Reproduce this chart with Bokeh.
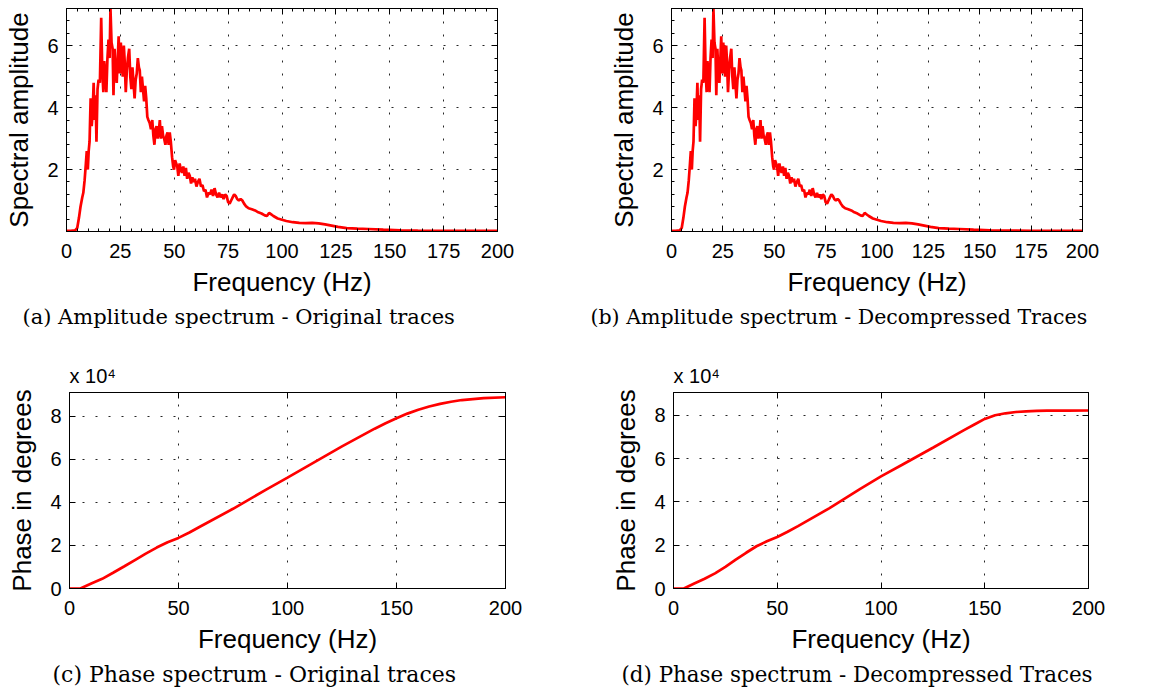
from bokeh.plotting import figure
from bokeh.layouts import column, row
from bokeh.models import FixedTicker, Title, LinearAxis, Range1d
from bokeh.embed import file_html
from bokeh.resources import INLINE

# ---------------- data ----------------
amp_freq = [0, 2, 4, 5, 5.8, 6.5, 7.3, 7.8, 8.4, 9.0, 9.4, 9.9, 10.3, 10.7, 11.2, 11.7, 12.1, 12.6,
            13.0, 13.5, 13.9, 14.4, 14.9, 15.5, 16.1, 16.6, 17.1, 17.5, 18.0, 18.5, 19.0, 19.5, 20.0,
            20.4, 20.9, 21.4, 21.8, 22.3, 22.8, 23.3, 23.8, 24.2, 24.7, 25.2, 25.7, 26.1, 26.6, 27.0,
            27.5, 28.0, 28.5, 29.1, 29.6, 30.1, 30.6, 31.1, 31.6, 32.1, 32.6, 33.1, 33.6, 34.0, 34.5,
            35.0, 35.5, 36.0, 36.5, 37.0, 37.5, 38.0, 38.6, 39.2, 39.8, 40.3, 40.8, 41.3, 41.8, 42.3,
            42.8, 43.3, 43.8, 44.3, 44.8, 45.3, 45.9, 46.4, 46.9, 47.4, 47.9, 48.4, 49.0, 49.5, 49.9,
            50.4, 50.9, 51.4, 51.9, 52.5, 53.0, 53.6, 54.2, 54.8, 55.4, 56.0, 56.6, 57.2, 57.8, 58.4,
            59.0, 59.6, 60.3, 61.0, 61.7, 62.4, 63.1, 63.8, 64.5, 65.2, 65.9, 66.6, 67.3, 68.0, 68.7,
            69.4, 70.1, 70.8, 71.5, 72.2, 72.9, 73.6, 74.3, 75.0, 75.7, 76.4, 77.1, 77.8, 78.5, 79.2,
            80.0, 80.8, 81.6, 82.4, 83.2, 84.5, 86.0, 87.5, 89.0, 90.5, 92.0, 93.0, 94.0, 95.0, 96.0,
            98.0, 100.0, 102.0, 105.0, 108.0, 111.0, 114.0, 117.0, 120.0, 123.0, 126.0, 130.0, 135.0,
            140.0, 147.0, 155.0, 163.0, 175.0, 200.0]
amp_original = [0.02, 0.02, 0.04, 0.12, 0.45, 0.8, 1.1, 1.25, 1.65, 2.2, 2.6, 2.0, 2.6, 2.9, 4.3, 3.4,
                3.8, 4.8, 3.6, 4.4, 2.9, 4.6, 4.9, 4.8, 6.9, 5.2, 4.5, 5.5, 5.1, 4.5, 5.6, 6.2, 5.6,
                7.2, 6.1, 5.9, 4.4, 5.9, 5.2, 4.8, 5.6, 6.3, 5.1, 6.1, 5.4, 5.0, 6.0, 5.5,
                4.5, 5.2, 5.6, 5.9, 5.0, 4.6, 5.3, 4.8, 4.3, 4.9, 5.1, 5.6, 5.3, 5.2, 4.5,
                5.0, 4.6, 4.2, 4.7, 4.3, 3.7, 3.6, 3.5, 3.3, 3.6, 3.1, 2.8, 3.3, 3.4, 3.0,
                3.2, 3.6, 3.0, 3.4, 3.1, 3.0, 2.8, 3.1, 3.2, 2.8, 3.2, 2.9, 2.4, 2.1, 2.0,
                2.3, 2.2, 2.1, 1.8, 2.2, 2.0, 1.9, 2.1, 1.8, 2.05, 1.7, 1.9, 1.8, 1.55, 1.75,
                1.6, 1.7, 1.45, 1.6, 1.7, 1.45, 1.5, 1.3, 1.35, 1.1, 1.25, 1.2, 1.35, 1.15, 1.4,
                1.2, 1.1, 1.25, 1.1, 1.2, 1.05, 1.2, 1.15, 0.95, 0.9, 1.0, 1.1, 1.2, 1.15, 1.05,
                1.0, 1.05, 1.0, 0.9, 0.82, 0.75, 0.72, 0.68, 0.62, 0.58, 0.52, 0.5, 0.6, 0.55, 0.5,
                0.42, 0.38, 0.34, 0.3, 0.28, 0.27, 0.28, 0.26, 0.23, 0.19, 0.15, 0.11, 0.09,
                0.08, 0.06, 0.04, 0.03, 0.02, 0.02]
amp_decompressed = list(amp_original)

phase_freq = [0, 5, 10, 15, 20, 25, 30, 35, 40, 45, 50, 55, 60, 75, 90, 100, 110, 125, 140, 145,
              150, 155, 160, 165, 170, 175, 180, 190, 200]
phase_original = [0, 0, 2300, 4500, 7300, 10200, 13200, 16200, 19000, 21500, 23500, 26000, 28800,
                  37000, 45800, 51500, 57300, 66000, 74200, 76700, 79000, 81200, 83000, 84500,
                  85700, 86700, 87500, 88400, 88800]
phase_decompressed = [0, 0, 2300, 4500, 7000, 10000, 13300, 16500, 19500, 21800, 23800, 26200,
                      28800, 37000, 46000, 51800, 57000, 65000, 73100, 75700, 78300, 80000,
                      80900, 81500, 81800, 82000, 82100, 82150, 82200]

amp_xticks = [0, 25, 50, 75, 100, 125, 150, 175, 200]
amp_yticks = [2, 4, 6]
phase_xticks = [0, 50, 100, 150, 200]
phase_yticks = [0, 20000, 40000, 60000, 80000]
phase_ylabels = {0: "0", 20000: "2", 40000: "4", 60000: "6", 80000: "8"}

captions = ["(a) Amplitude spectrum - Original traces",
            "(b) Amplitude spectrum - Decompressed Traces",
            "(c) Phase spectrum - Original traces",
            "(d) Phase spectrum - Decompressed Traces"]

SANS = "Liberation Sans"
SERIF = "DejaVu Serif"


def style_axis(ax, ticker, labels=True, minor=False, overrides=None):
    ax.ticker = ticker
    ax.axis_line_color = "black"
    ax.major_tick_line_color = "black"
    ax.major_tick_in = 6
    ax.major_tick_out = 0
    if minor:
        ax.minor_tick_line_color = "black"
        ax.minor_tick_in = 3
        ax.minor_tick_out = 0
    else:
        ax.minor_tick_line_color = None
    if labels:
        ax.major_label_text_font = SANS
        ax.major_label_text_font_size = "20px"
        ax.major_label_text_color = "black"
        ax.axis_label_text_font = SANS
        ax.axis_label_text_font_size = "26px"
        ax.axis_label_text_font_style = "normal"
        ax.axis_label_text_color = "black"
        if overrides:
            ax.major_label_overrides = overrides
    else:
        ax.major_label_text_font_size = "1px"
        ax.major_label_text_color = None
        ax.major_label_standoff = 0
        ax.axis_label_standoff = 0


def make_panel(x, y, ylab, xr, yr, xticks, yticks, minor, borders, caption, cap_offset,
               cap_size, cap_standoff, overrides=None, sci=False):
    w, h, bl, br, bt, bb = borders
    p = figure(width=w, height=h, x_range=Range1d(*xr), y_range=Range1d(*yr),
               min_border_left=bl, min_border_right=br, min_border_top=bt, min_border_bottom=bb,
               output_backend="svg", toolbar_location=None)
    p.background_fill_color = "white"
    p.border_fill_color = "white"
    p.outline_line_color = "black"
    p.outline_line_width = 1
    if minor:
        xt = FixedTicker(ticks=xticks, minor_ticks=list(range(0, 201, 5)))
        yt = FixedTicker(ticks=yticks, minor_ticks=[0.4 * i for i in range(0, 19)])
    else:
        xt = FixedTicker(ticks=xticks)
        yt = FixedTicker(ticks=yticks)
    style_axis(p.xaxis[0], xt, minor=minor)
    style_axis(p.yaxis[0], yt, minor=minor, overrides=overrides)
    p.xaxis[0].axis_label = "Frequency (Hz)"
    p.yaxis[0].axis_label = ylab
    p.xaxis[0].major_label_standoff = 12
    p.xaxis[0].axis_label_standoff = 6
    p.yaxis[0].major_label_standoff = 8
    p.yaxis[0].axis_label_standoff = 10
    top = LinearAxis()
    style_axis(top, xt, labels=False, minor=minor)
    p.add_layout(top, "above")
    right = LinearAxis()
    style_axis(right, yt, labels=False, minor=minor)
    p.add_layout(right, "right")
    for g in (p.xgrid[0], p.ygrid[0]):
        g.grid_line_color = "black"
        g.grid_line_dash = "2 11"
        g.grid_line_width = 1
        g.grid_line_alpha = 0.85
    p.line(x, y, line_color="#ff0000", line_width=2.7)
    if sci:
        p.title = Title(text="x 10\u2074", align="left", text_font=SANS, text_font_size="20px",
                        text_font_style="normal", text_color="black", standoff=12)
    else:
        p.title = None
    cap = Title(text=caption, align="left", offset=cap_offset, text_font=SERIF,
                text_font_size=cap_size, text_font_style="normal", text_color="black",
                standoff=cap_standoff)
    p.add_layout(cap, "below")
    return p


pa = make_panel(amp_freq, amp_original, "Spectral amplitude", (0, 200), (0, 7.2),
                amp_xticks, amp_yticks, True, (578, 345, 66, 81, 8, 114), captions[0], -44,
                "21px", 6)
pb = make_panel(amp_freq, amp_decompressed, "Spectral amplitude", (0, 200), (0, 7.2),
                amp_xticks, amp_yticks, True, (578, 345, 93, 74, 8, 114), captions[1], -81,
                "20.5px", 6)
pc = make_panel(phase_freq, phase_original, "Phase in degrees", (0, 200), (0, 91000),
                phase_xticks, phase_yticks, False, (578, 355, 69, 73, 43, 112), captions[2], -17,
                "22px", 6, overrides=phase_ylabels, sci=True)
pd = make_panel(phase_freq, phase_decompressed, "Phase in degrees", (0, 200), (0, 90500),
                phase_xticks, phase_yticks, False, (578, 355, 95, 68, 47, 112), captions[3], -52,
                "21.4px", 6, overrides=phase_ylabels, sci=True)

layout = column(row(pa, pb, spacing=0), row(pc, pd, spacing=0), spacing=0)
open("out.html", "w").write(file_html(layout, INLINE))
